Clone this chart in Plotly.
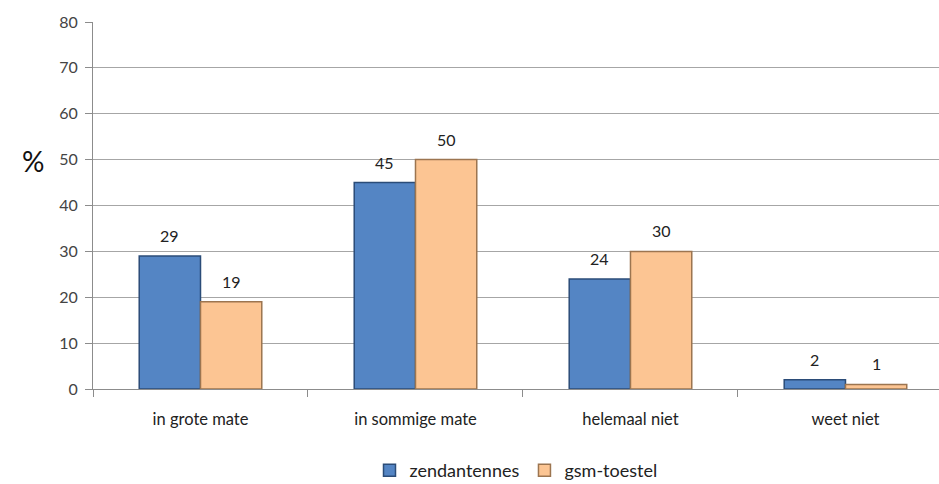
import plotly.graph_objects as go

categories = ["in grote mate", "in sommige mate", "helemaal niet", "weet niet"]
zendantennes = [29, 45, 24, 2]
gsm_toestel = [19, 50, 30, 1]

FONT = "Lato, 'Open Sans', sans-serif"
BAR_GAP = 0.43

fig = go.Figure()
fig.add_trace(go.Bar(
    name="zendantennes", x=categories, y=zendantennes,
    marker=dict(color="#5485C4", line=dict(color="#2B4C78", width=1.5)),
))
fig.add_trace(go.Bar(
    name="gsm-toestel", x=categories, y=gsm_toestel,
    marker=dict(color="#FCC593", line=dict(color="#9C7550", width=1.5)),
))

# value labels above each bar, offset to the left/right half of the group
half = (1 - BAR_GAP) / 4
annotations = []
for i, cat in enumerate(categories):
    for series, off in ((zendantennes, -half), (gsm_toestel, half)):
        annotations.append(dict(
            x=i + off, y=series[i], xref="x", yref="y", text=str(series[i]),
            showarrow=False, yanchor="bottom", yshift=9,
            font=dict(size=16, color="#222222", family=FONT),
        ))
annotations.append(dict(text="%", xref="paper", yref="paper", x=-0.086, y=0.62,
                        showarrow=False, font=dict(size=28, color="#111111", family=FONT)))

fig.update_layout(
    width=939, height=484,
    margin=dict(l=93, r=0, t=22, b=95, autoexpand=False),
    paper_bgcolor="white", plot_bgcolor="white",
    barmode="group", bargap=BAR_GAP, bargroupgap=0,
    font=dict(family=FONT, size=14, color="#444444"),
    showlegend=True,
    legend=dict(orientation="h", x=0.5, xref="paper", xanchor="center",
                y=-0.222, yanchor="middle",
                font=dict(size=18, color="#222222"), traceorder="normal"),
    annotations=annotations,
)
fig.update_xaxes(
    range=[-0.5, 3.435], showline=True, linecolor="#8C8C8C", linewidth=1,
    ticks="outside", tickson="boundaries", ticklen=7, tickcolor="#8C8C8C",
    tickfont=dict(size=16.5, color="#222222"), ticklabelstandoff=15, showgrid=False,
)
fig.update_yaxes(
    range=[0, 80], dtick=10, showline=True, linecolor="#8C8C8C", linewidth=1,
    ticks="outside", ticklen=7, tickcolor="#8C8C8C",
    gridcolor="#A6A6A6", gridwidth=1, zeroline=False,
    tickfont=dict(size=16, color="#444444"), ticklabelstandoff=4,
)

fig.write_html("out.html")
